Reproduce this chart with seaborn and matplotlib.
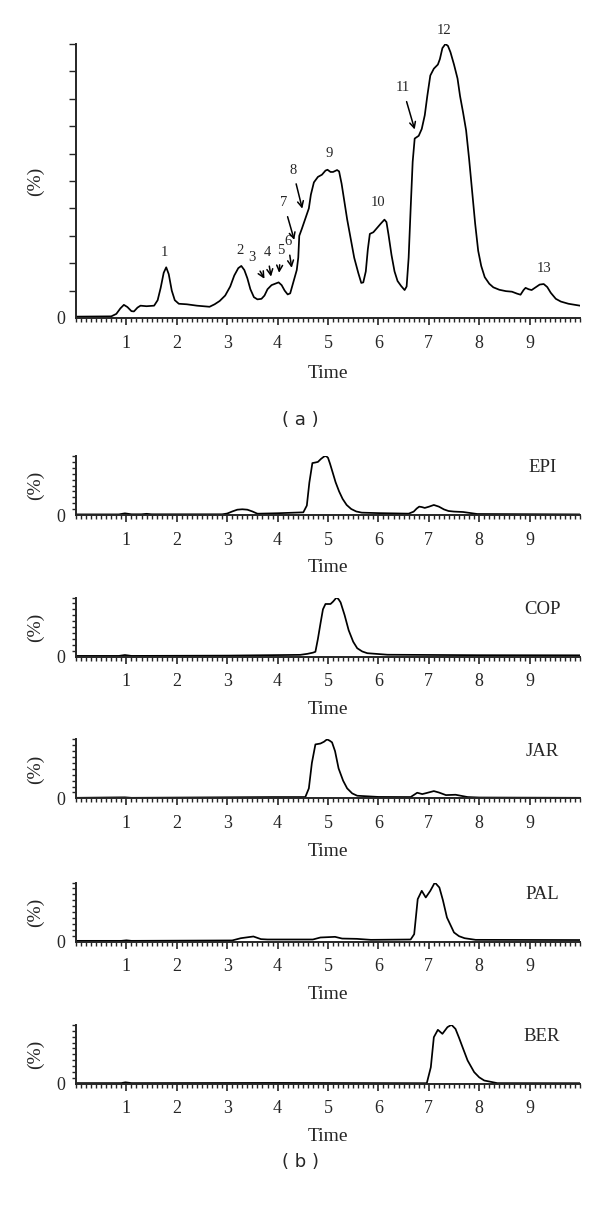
import numpy as np
import pandas as pd
import matplotlib
matplotlib.use('Agg')
import matplotlib.pyplot as plt
from matplotlib.ticker import MultipleLocator, NullFormatter
import seaborn as sns

# panel (a): total chromatogram, time (min) and relative intensity (%)
time_a = [0.0, 0.7, 0.8, 0.88, 0.95, 1.02, 1.1, 1.15, 1.22, 1.28, 1.4, 1.55, 1.62, 1.68, 1.74, 1.79,
          1.84, 1.9, 1.96, 2.04, 2.2, 2.4, 2.65, 2.75, 2.85, 2.96, 3.06, 3.14, 3.22, 3.28, 3.34, 3.4,
          3.46, 3.53, 3.6, 3.68, 3.74, 3.8, 3.88, 3.95, 4.02, 4.08, 4.14, 4.2, 4.25, 4.32, 4.38, 4.41,
          4.43, 4.48, 4.56, 4.62, 4.66, 4.72, 4.8, 4.88, 4.95, 4.99, 5.05, 5.1, 5.18, 5.22, 5.27, 5.32,
          5.38, 5.45, 5.52, 5.6, 5.66, 5.7, 5.75, 5.79, 5.83, 5.9, 5.98, 6.05, 6.12, 6.16, 6.2, 6.26,
          6.32, 6.38, 6.45, 6.52, 6.56, 6.6, 6.64, 6.68, 6.72, 6.8, 6.86, 6.92, 6.97, 7.03, 7.1, 7.18,
          7.22, 7.27, 7.33, 7.38, 7.43, 7.5, 7.57, 7.62, 7.68, 7.74, 7.8, 7.86, 7.92, 7.98, 8.04, 8.11,
          8.2, 8.28, 8.4, 8.53, 8.65, 8.75, 8.82, 8.88, 8.92, 8.98, 9.04, 9.12, 9.2, 9.28, 9.35, 9.42,
          9.52, 9.62, 9.77, 10.0]
signal_a = [0.5, 0.6, 1.5, 3.5, 4.8, 4.0, 2.5, 2.4, 3.8, 4.5, 4.3, 4.5, 6.5, 11, 16.5, 18.5,
            16, 10, 6.5, 5.2, 5.0, 4.5, 4.1, 5.0, 6.2, 8.2, 11.5, 15.5, 18.2, 19.0, 17.5, 14.5,
            10.5, 7.6, 6.8, 7.0, 8.2, 10.5, 12.0, 12.5, 13.0, 12.0, 10.0, 8.6, 9.0, 13.5, 17.5, 22,
            30, 32.5, 36.8, 40, 45, 49.5, 51.5, 52.3, 53.8, 54.1, 53.3, 53.3, 54.0, 53.5, 49, 43,
            36, 29, 22, 16.5, 12.8, 13.0, 17, 25, 30.7, 31.3, 33.0, 34.5, 35.9, 35, 30.5, 23,
            17, 13.5, 11.7, 10.2, 11.5, 22, 40, 57, 65.5, 66.5, 69, 74, 81, 88.5, 91, 92.5,
            94.5, 98.5, 100, 99.3, 97, 92.5, 87.4, 81, 75, 68.5, 58, 46, 34.4, 24.5, 19, 14.9,
            12.5, 11.2, 10.3, 9.8, 9.6, 8.9, 8.5, 10.2, 11.0, 10.5, 10.2, 11.2, 12.2, 12.4, 11.3, 9.2,
            7.0, 6.0, 5.2, 4.5]

# peak numbers: label position and arrow tip (None = no arrow)
peak_ids = ['1', '2', '3', '4', '5', '6', '7', '8', '9', '10', '11', '12', '13']
peak_text_x = [1.76, 3.25, 3.5, 3.79, 4.06, 4.2, 4.12, 4.3, 5.02, 6.0, 6.48, 7.3, 9.28]
peak_text_y = [24, 24.5, 22, 24, 24.5, 28, 42, 54, 60, 42, 84, 105, 18]
arrow_x = [None, None, 3.74, 3.87, 4.03, 4.28, 4.33, 4.49, None, None, 6.72, None, None]
arrow_y = [None, None, 14.3, 15.1, 16.5, 18.3, 28.5, 39.9, None, None, 68.8, None, None]

# panel (b): single extracts
epi_t = [0.0, 0.85, 0.97, 1.1, 1.3, 1.4, 1.5, 2.9, 3.0, 3.1, 3.2, 3.3, 3.4, 3.5, 3.6, 4.0,
         4.51, 4.58, 4.63, 4.69, 4.75, 4.8, 4.86, 4.92, 4.96, 5.0, 5.04, 5.1, 5.15, 5.22, 5.29,
         5.37, 5.46, 5.56, 5.67, 6.0, 6.6, 6.7, 6.76, 6.81, 6.86, 6.92, 7.0, 7.1, 7.2, 7.3, 7.39,
         7.5, 7.68, 7.96, 10.0]
epi_v = [1.0, 1.0, 2.8, 1.2, 1.2, 2.0, 1.2, 1.2, 2.5, 6.0, 9.0, 9.7, 9.0, 6.0, 2.2, 3.0,
         4.5, 16, 55, 88, 89, 90, 95, 99, 100, 97, 87, 70, 55.7, 40, 27.3,
         17, 10.2, 6.0, 4.0, 3.2, 2.3, 5.7, 11, 14.2, 13.5, 12, 14, 17, 14.2, 9.5, 6.8,
         5.8, 5.1, 1.7, 1.0]

cop_t = [0.0, 0.85, 0.97, 1.1, 3.0, 4.45, 4.59, 4.7, 4.75, 4.8, 4.85, 4.9, 4.95, 5.05, 5.1,
         5.17, 5.21, 5.25, 5.33, 5.41, 5.5, 5.58, 5.68, 5.78, 6.18, 8.0, 10.0]
cop_v = [1.0, 1.0, 2.5, 1.0, 1.5, 2.8, 4.5, 6.5, 8.0, 30, 55.6, 80, 89, 89, 93,
         100, 97, 91.7, 70, 44.5, 25, 14, 8.5, 5.6, 3.0, 2.2, 2.0]

jar_t = [0.0, 0.97, 1.1, 3.89, 4.55, 4.62, 4.68, 4.75, 4.85, 4.92, 4.98, 5.03, 5.08, 5.14,
         5.21, 5.3, 5.38, 5.48, 5.58, 6.0, 6.64, 6.77, 6.87, 6.95, 7.1, 7.2, 7.34, 7.53, 7.77,
         8.0, 10.0]
jar_v = [1.0, 1.8, 1.0, 2.3, 2.3, 17, 60, 91.5, 93, 96, 100, 98, 95, 80,
         50.8, 30, 17, 8.5, 4.5, 2.5, 2.3, 9.6, 7.3, 9.0, 12.4, 10, 5.6, 6.2, 2.3,
         1.5, 1.0]

pal_t = [0.0, 0.9, 1.0, 1.1, 3.1, 3.27, 3.52, 3.67, 3.8, 4.7, 4.85, 5.14, 5.28, 5.57, 5.85,
         6.64, 6.71, 6.78, 6.86, 6.94, 7.03, 7.12, 7.21, 7.28, 7.36, 7.5, 7.6, 7.71, 7.93, 10.0]
pal_v = [1.1, 1.1, 2.0, 1.1, 1.8, 5.6, 8.5, 4.0, 3.4, 3.4, 6.8, 7.9, 5.0, 4.5, 2.8,
         3.4, 12.4, 71.8, 85.9, 74.6, 85.9, 100, 91.5, 70, 40.7, 15.3, 9.0, 5.6, 2.8, 2.5]

ber_t = [0.0, 0.9, 0.98, 1.1, 4.0, 6.96, 7.04, 7.1, 7.18, 7.27, 7.37, 7.45, 7.53, 7.6, 7.67,
         7.77, 7.9, 8.0, 8.1, 8.36, 10.0]
ber_v = [1.2, 1.2, 2.5, 1.2, 1.5, 1.0, 28, 79, 91.5, 84.7, 96, 100, 93, 78, 62,
         39.5, 19.8, 11, 5.6, 1.1, 1.0]

extract_names = ['EPI', 'COP', 'JAR', 'PAL', 'BER']
extract_t = [epi_t, cop_t, jar_t, pal_t, ber_t]
extract_v = [epi_v, cop_v, jar_v, pal_v, ber_v]

sns.set_style('white')
plt.rcParams['font.family'] = ['Liberation Serif', 'DejaVu Serif']
plt.rcParams['axes.linewidth'] = 1.4

W, H = 600, 1206
fig = plt.figure(figsize=(W / 100, H / 100), dpi=100)


def style_axis(ax, ytick_len):
    sns.despine(ax=ax)
    ax.set_xlim(0, 10)
    ax.set_ylim(0, 100)
    ax.set_xticks(range(1, 10))
    ax.xaxis.set_minor_locator(MultipleLocator(0.1))
    ax.set_yticks([0])
    ax.set_yticklabels(['0'])
    ax.yaxis.set_minor_locator(MultipleLocator(10))
    ax.tick_params(axis='x', which='major', direction='out', length=5, width=1.2,
                   labelsize=13, pad=7, bottom=True)
    ax.tick_params(axis='x', which='minor', direction='out', length=3, width=1.0, bottom=True)
    ax.tick_params(axis='y', which='major', direction='out', length=0, labelsize=13, pad=8, left=True)
    ax.tick_params(axis='y', which='minor', direction='out', length=ytick_len, width=1.0, left=True)
    ax.set_xlabel('Time', fontsize=14)
    ax.set_ylabel('(%)', fontsize=14)


# ---- panel (a)
ax = fig.add_axes([76 / W, 1 - 318 / H, 504 / W, 274 / H])
df_a = pd.DataFrame({'time': time_a, 'signal': signal_a})
sns.lineplot(data=df_a, x='time', y='signal', color='black', linewidth=1.25, ax=ax)
style_axis(ax, 5)
ax.xaxis.set_label_coords(0.5, -0.17)
ax.yaxis.set_label_coords(-0.064, 0.5)
for i, lab in enumerate(peak_ids):
    if arrow_x[i] is None:
        ax.text(peak_text_x[i], peak_text_y[i], lab, ha='center', va='center', fontsize=10.5,
                clip_on=False)
    else:
        ax.annotate(lab, xy=(arrow_x[i], arrow_y[i]), xytext=(peak_text_x[i], peak_text_y[i]),
                    ha='center', va='center', fontsize=10.5,
                    arrowprops=dict(arrowstyle='->', color='black', lw=1.1, shrinkA=3, shrinkB=0))
fig.text(0.5, 1 - 420 / H, '( a )', ha='center', va='center', fontsize=13, family='DejaVu Sans')

# ---- panel (b)
zero_px = [515, 656.5, 798.4, 941.5, 1083.8]
for name, t, v, z in zip(extract_names, extract_t, extract_v, zero_px):
    axb = fig.add_axes([76 / W, 1 - z / H, 504 / W, 59 / H])
    dfb = pd.DataFrame({'time': t, 'signal': v})
    sns.lineplot(data=dfb, x='time', y='signal', color='black', linewidth=1.25, ax=axb)
    style_axis(axb, 3)
    axb.xaxis.set_label_coords(0.5, -0.75)
    axb.yaxis.set_label_coords(-0.064, 0.5)
    axb.text(0.925, 0.8, name, transform=axb.transAxes, ha='center', va='center', fontsize=13.5)

fig.text(0.5, 1 - 1162 / H, '( b )', ha='center', va='center', fontsize=13, family='DejaVu Sans')

fig.savefig('out.png', dpi=100)
